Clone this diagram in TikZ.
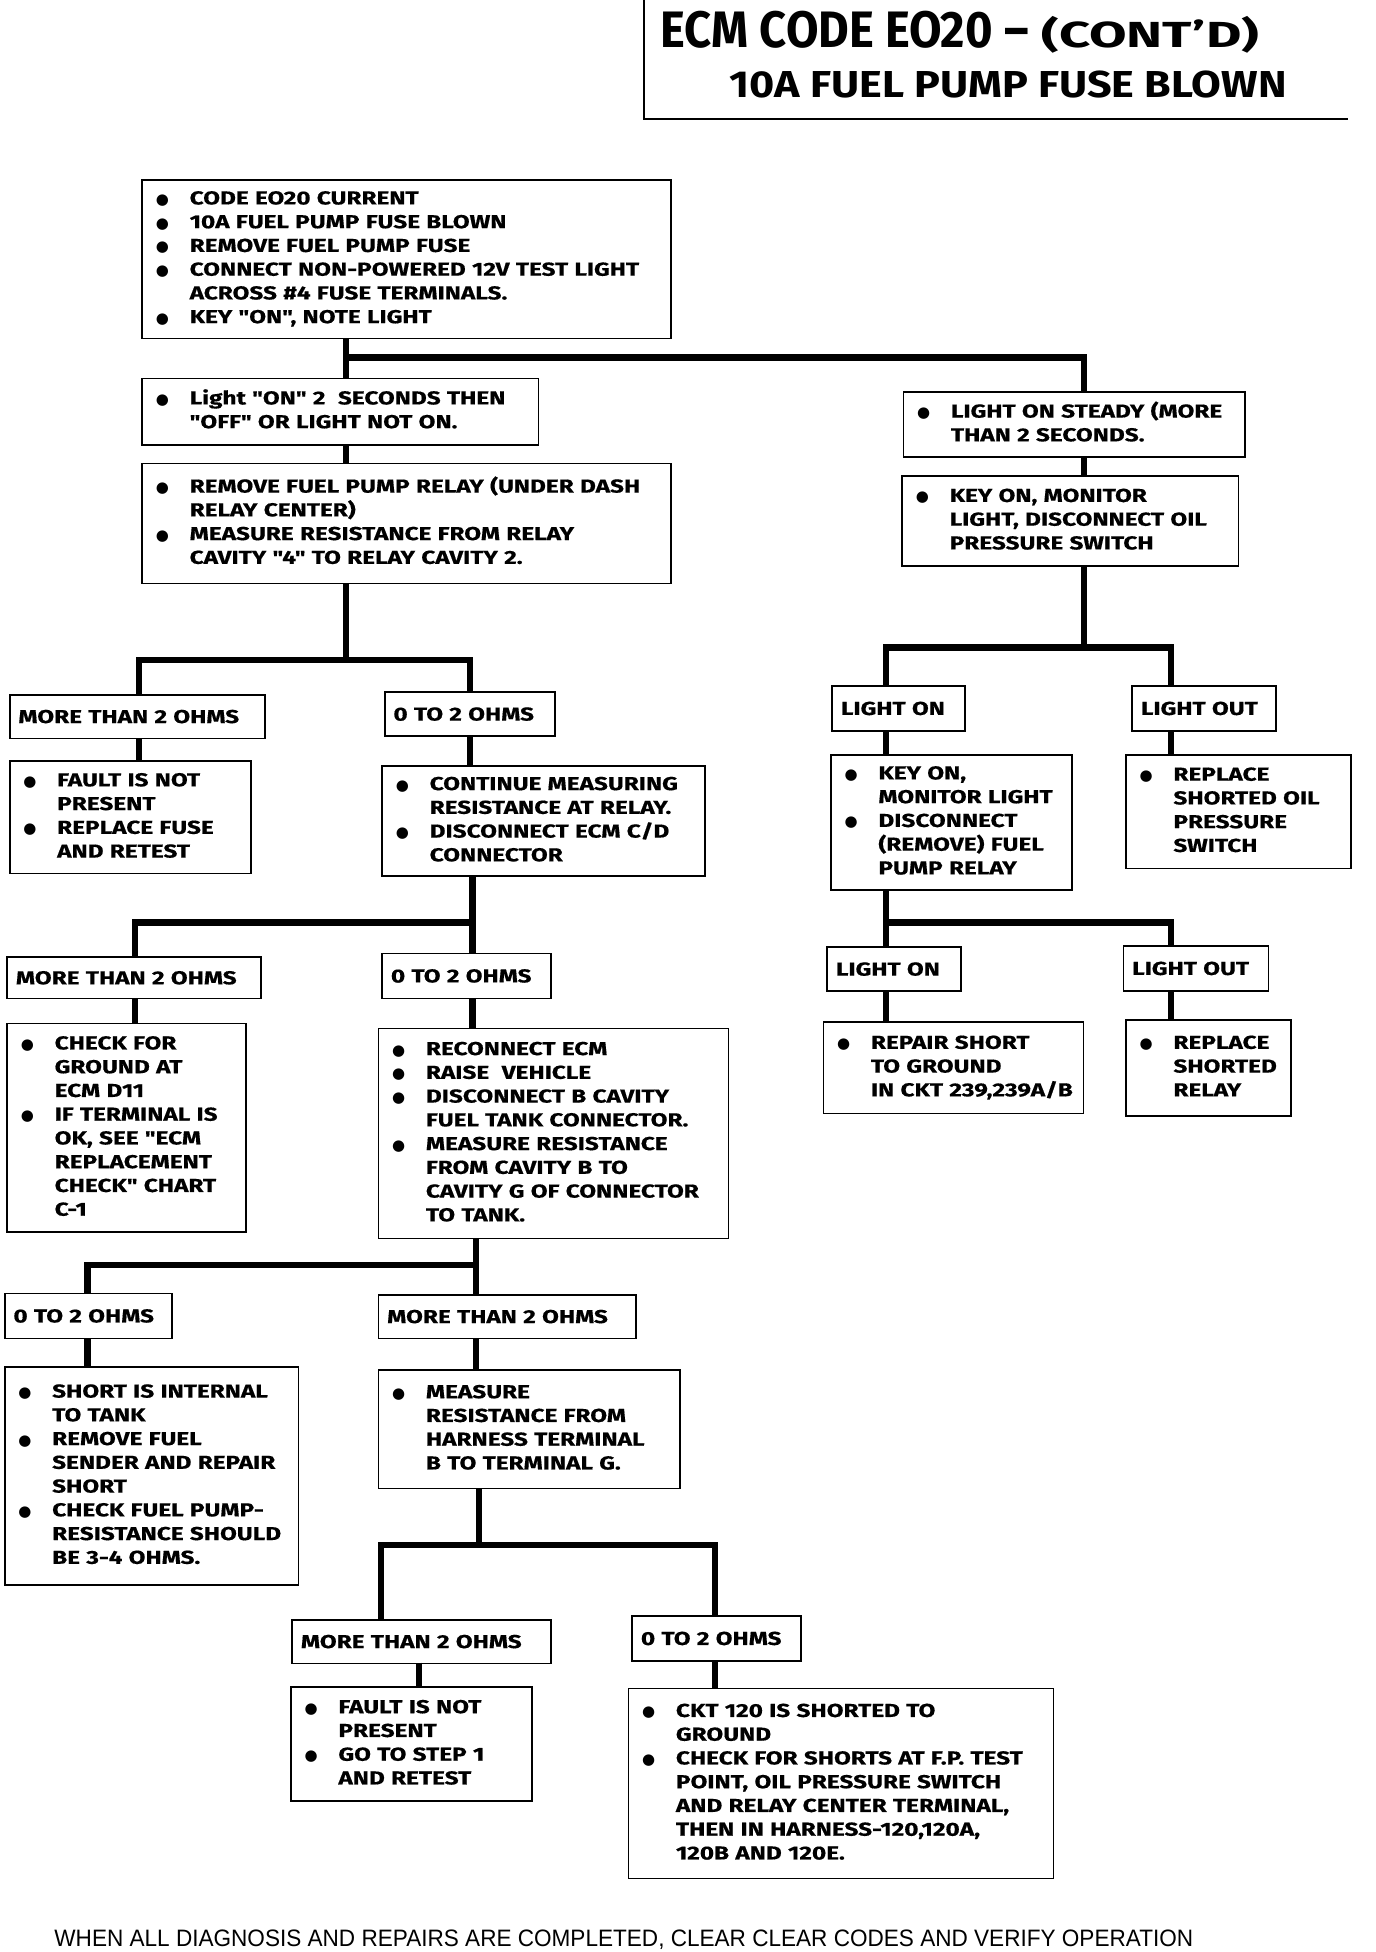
\documentclass[tikz,border=0pt]{standalone}
\usepackage{fontspec}
\setmainfont{Fira Sans}
\newfontfamily\boxfont[FakeStretch=1.3,BoldFeatures={FakeBold=0.5}]{Fira Sans}
\newfontfamily\headfont[FakeStretch=0.92]{Fira Sans}
\newfontfamily\contfont[FakeStretch=1.5]{Fira Sans}
\newfontfamily\subfont[FakeStretch=1.15]{Fira Sans}
\newfontfamily\notefont[FakeStretch=0.95]{Liberation Sans}
\newfontfamily\dotfont{DejaVu Sans}
\newcommand\bul{\hspace*{4pt}\makebox[27pt][l]{\dotfont\fontsize{12}{12}\selectfont ●}}
\newcommand\ind{\hspace*{31pt}}
\newcommand\lines[1]{\begin{tabular}{@{}l@{}}#1\end{tabular}}

\begin{document}
\begin{tikzpicture}[x=1pt,y=-1pt,
	box/.style={draw,line width=1.5pt,anchor=north west,inner xsep=7pt,inner ysep=0pt,
		align=left,font=\boxfont\bfseries\fontsize{15}{19}\selectfont},
	link/.style={line width=5pt,line join=miter}]
	\useasboundingbox (0,0) rectangle (1100.8,1561.6);
	% title block, open on the top and the right
	\coordinate (tl) at (515,0);
	\coordinate (tb) at (515,95);
	\coordinate (tr) at (1078,95);
	\draw[line width=1.5pt] (tl) -- (tb) -- (tr);
	\node[anchor=base west,font=\bfseries] (title) at (525,38)
		{\headfont\fontsize{41}{41}\selectfont ECM CODE EO20 –\contfont\fontsize{29}{29}\selectfont\ (CONT’D)};
	\node[anchor=base west,font=\bfseries] (sub) at (580,78)
		{\subfont\fontsize{30}{30}\selectfont 10A FUEL PUMP FUSE BLOWN};

	% left column, first test
	\node[box,text width=409pt,minimum height=127pt] (a) at (113,143)
		{\lines{\bul CODE EO20 CURRENT\\ \bul 10A FUEL PUMP FUSE BLOWN\\ \bul REMOVE FUEL PUMP FUSE\\
		 \bul CONNECT NON-POWERED 12V TEST LIGHT\\ \ind ACROSS \#4 FUSE TERMINALS.\\ \bul KEY "ON", NOTE LIGHT}};
	\node[box,text width=303pt,minimum height=53pt] (b) at (113,302)
		{\lines{\bul Light "ON" 2 \ SECONDS THEN\\ \ind "OFF" OR LIGHT NOT ON.}};
	\node[box,text width=409pt,minimum height=96pt] (d) at (113,370)
		{\lines{\bul REMOVE FUEL PUMP RELAY (UNDER DASH\\ \ind RELAY CENTER)\\
		 \bul MEASURE RESISTANCE FROM RELAY\\ \ind CAVITY "4" TO RELAY CAVITY 2.}};
	\node[box,text width=190pt,minimum height=35pt] (e1) at (7,555) {MORE THAN 2 OHMS};
	\node[box,text width=122pt,minimum height=35pt] (e2) at (307,553) {0 TO 2 OHMS};
	\node[box,text width=179pt,minimum height=90pt] (f1) at (7,608)
		{\lines{\bul FAULT IS NOT\\ \ind PRESENT\\ \bul REPLACE FUSE\\ \ind AND RETEST}};
	\node[box,text width=244pt,minimum height=88pt] (f2) at (305,612)
		{\lines{\bul CONTINUE MEASURING\\ \ind RESISTANCE AT RELAY.\\ \bul DISCONNECT ECM C/D\\ \ind CONNECTOR}};
	\node[box,text width=189pt,minimum height=33pt] (g1) at (5,765) {MORE THAN 2 OHMS};
	\node[box,text width=121pt,minimum height=36pt] (g2) at (305,762) {0 TO 2 OHMS};
	\node[box,text width=177pt,minimum height=167pt] (h1) at (5,818)
		{\lines{\bul CHECK FOR\\ \ind GROUND AT\\ \ind ECM D11\\ \bul IF TERMINAL IS\\ \ind OK, SEE "ECM\\
		 \ind REPLACEMENT\\ \ind CHECK" CHART\\ \ind C-1}};
	\node[box,text width=266pt,minimum height=168pt] (h2) at (302,822)
		{\lines{\bul RECONNECT ECM\\ \bul RAISE \ VEHICLE\\ \bul DISCONNECT B CAVITY\\ \ind FUEL TANK CONNECTOR.\\
		 \bul MEASURE RESISTANCE\\ \ind FROM CAVITY B TO\\ \ind CAVITY G OF CONNECTOR\\ \ind TO TANK.}};
	\node[box,text width=120pt,minimum height=36pt] (i1) at (3,1034) {0 TO 2 OHMS};
	\node[box,text width=192pt,minimum height=35pt] (i2) at (302,1035) {MORE THAN 2 OHMS};
	\node[box,text width=221pt,minimum height=174pt] (j1) at (3,1093)
		{\lines{\bul SHORT IS INTERNAL\\ \ind TO TANK\\ \bul REMOVE FUEL\\ \ind SENDER AND REPAIR\\ \ind SHORT\\
		 \bul CHECK FUEL PUMP-\\ \ind RESISTANCE SHOULD\\ \ind BE 3-4 OHMS.}};
	\node[box,text width=227pt,minimum height=95pt] (j2) at (302,1095)
		{\lines{\bul MEASURE\\ \ind RESISTANCE FROM\\ \ind HARNESS TERMINAL\\ \ind B TO TERMINAL G.}};
	\node[box,text width=193pt,minimum height=35pt] (k1) at (233,1295) {MORE THAN 2 OHMS};
	\node[box,text width=121pt,minimum height=36pt] (k2) at (505,1292) {0 TO 2 OHMS};
	\node[box,text width=179pt,minimum height=91pt] (l1) at (232,1349)
		{\lines{\bul FAULT IS NOT\\ \ind PRESENT\\ \bul GO TO STEP 1\\ \ind AND RETEST}};
	\node[box,text width=326pt,minimum height=152pt] (l2) at (502,1350)
		{\lines{\bul CKT 120 IS SHORTED TO\\ \ind GROUND\\ \bul CHECK FOR SHORTS AT F.P. TEST\\
		 \ind POINT, OIL PRESSURE SWITCH\\ \ind AND RELAY CENTER TERMINAL,\\
		 \ind THEN IN HARNESS-120,120A,\\ \ind 120B AND 120E.}};

	% right column, light stays on
	\node[box,text width=259pt,minimum height=52pt] (c) at (722,313)
		{\lines{\bul LIGHT ON STEADY (MORE\\ \ind THAN 2 SECONDS.}};
	\node[box,text width=255pt,minimum height=72pt] (m) at (721,380)
		{\lines{\bul KEY ON, MONITOR\\ \ind LIGHT, DISCONNECT OIL\\ \ind PRESSURE SWITCH}};
	\node[box,text width=92pt,minimum height=36pt] (n1) at (665,548) {LIGHT ON};
	\node[box,text width=101pt,minimum height=36pt] (n2) at (905,548) {LIGHT OUT};
	\node[box,text width=179pt,minimum height=108pt] (o1) at (664,603)
		{\lines{\bul KEY ON,\\ \ind MONITOR LIGHT\\ \bul DISCONNECT\\ \ind (REMOVE) FUEL\\ \ind PUMP RELAY}};
	\node[box,text width=166pt,minimum height=91pt] (o2) at (900,603)
		{\lines{\bul REPLACE\\ \ind SHORTED OIL\\ \ind PRESSURE\\ \ind SWITCH}};
	\node[box,text width=93pt,minimum height=35pt] (p1) at (661,757) {LIGHT ON};
	\node[box,text width=102pt,minimum height=36pt] (p2) at (898,756) {LIGHT OUT};
	\node[box,text width=194pt,minimum height=73pt] (q1) at (658,817)
		{\lines{\bul REPAIR SHORT\\ \ind TO GROUND\\ \ind IN CKT 239,239A/B}};
	\node[box,text width=118pt,minimum height=77pt] (q2) at (900,815)
		{\lines{\bul REPLACE\\ \ind SHORTED\\ \ind RELAY}};

	% branch points of the connectors
	\coordinate (s1) at (277,286);  \coordinate (s2) at (867,286);
	\coordinate (t1) at (111,528);  \coordinate (t2) at (376,528);
	\coordinate (u1) at (108,738);  \coordinate (u2) at (378,738);
	\coordinate (v1) at (70,1012);  \coordinate (v2) at (381,1012);
	\coordinate (w1) at (305,1236); \coordinate (w0) at (383,1236); \coordinate (w2) at (572,1236);
	\coordinate (k1x) at (335,1330);
	\coordinate (x1) at (709,518);  \coordinate (x2) at (937,518);
	\coordinate (y1) at (709,738);  \coordinate (y2) at (937,738);

	\draw[link] (a.south -| s1) -- (b.north -| s1);
	\draw[link] (s1) -- (s2) -- (c.north -| s2);
	\draw[link] (b.south -| s1) -- (d.north -| s1);
	\draw[link] (d.south -| s1) -- (s1 |- t1);
	\draw[link] (e1.north -| t1) -- (t1) -- (t2) -- (e2.north -| t2);
	\draw[link] (e1.south -| t1) -- (f1.north -| t1);
	\draw[link] (e2.south -| t2) -- (f2.north -| t2);
	\draw[link] (f2.south -| u2) -- (u2);
	\draw[link] (g1.north -| u1) -- (u1) -- (u2) -- (g2.north -| u2);
	\draw[link] (g1.south -| u1) -- (h1.north -| u1);
	\draw[link] (g2.south -| u2) -- (h2.north -| u2);
	\draw[link] (h2.south -| v2) -- (v2);
	\draw[link] (i1.north -| v1) -- (v1) -- (v2) -- (i2.north -| v2);
	\draw[link] (i1.south -| v1) -- (j1.north -| v1);
	\draw[link] (i2.south -| v2) -- (j2.north -| v2);
	\draw[link] (j2.south -| w0) -- (w0);
	\draw[link] (k1.north -| w1) -- (w1) -- (w2) -- (k2.north -| w2);
	\draw[link] (k1x) -- (l1.north -| k1x);
	\draw[link] (k2.south -| w2) -- (l2.north -| w2);
	\draw[link] (c.south -| s2) -- (m.north -| s2);
	\draw[link] (m.south -| s2) -- (s2 |- x1);
	\draw[link] (n1.north -| x1) -- (x1) -- (x2) -- (n2.north -| x2);
	\draw[link] (n1.south -| x1) -- (o1.north -| x1);
	\draw[link] (n2.south -| x2) -- (o2.north -| x2);
	\draw[link] (o1.south -| y1) -- (p1.north -| y1);
	\draw[link] (y1) -- (y2) -- (p2.north -| y2);
	\draw[link] (p1.south -| y1) -- (q1.north -| y1);
	\draw[link] (p2.south -| y2) -- (q2.north -| y2);

	\node[anchor=base west,font=\notefont\fontsize{19}{19}\selectfont] (note) at (40,1557)
		{WHEN ALL DIAGNOSIS AND REPAIRS ARE COMPLETED, CLEAR CLEAR CODES AND VERIFY OPERATION};
\end{tikzpicture}
\end{document}
